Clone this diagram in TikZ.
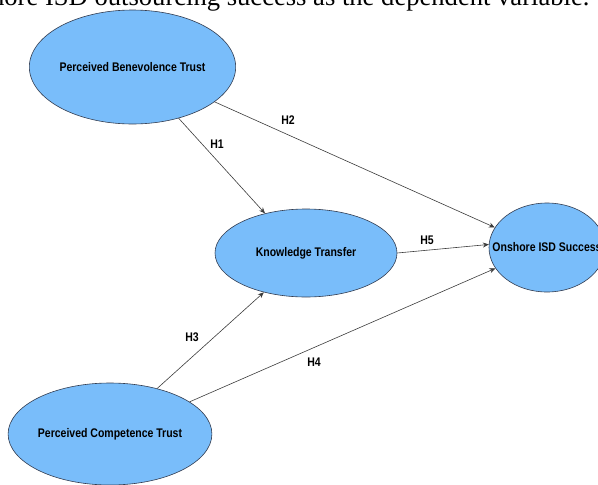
\documentclass[tikz,border=0pt]{standalone}
\usepackage{fontspec}
\usepackage{tikz}
\usetikzlibrary{shapes.geometric, arrows.meta}
\newfontfamily\lblfont{Liberation Sans}[FakeStretch=0.84]
\newfontfamily\capfont{Liberation Serif}
\definecolor{ovalblue}{RGB}{121,189,250}
\definecolor{ovalline}{RGB}{50,60,80}
\definecolor{linegray}{RGB}{60,60,60}
\tikzstyle{construct} = [ellipse, draw=ovalline, line width=0.6pt, fill=ovalblue, inner sep=0pt, font=\lblfont\bfseries\fontsize{12.5}{14}\selectfont]
\tikzstyle{hyp} = [font=\lblfont\bfseries\fontsize{12.5}{14}\selectfont]
\tikzstyle{arrow} = [draw=linegray, line width=0.6pt, -{Stealth[length=6pt,width=5pt]}]

\begin{document}
\begin{tikzpicture}[x=1pt, y=-1pt]
      \useasboundingbox (0,0) rectangle (598,485);
      \node (cap) [anchor=base east, font=\capfont\fontsize{26.6}{32}\selectfont] at (593,5.5) {shore ISD outsourcing success as the dependent variable.};
      \node (ben) [construct, minimum width=179pt, minimum height=114pt] at (132.5,67) {Perceived Benevolence Trust};
      \node (kt) [construct, minimum width=182pt, minimum height=88pt] at (306,253) {Knowledge Transfer};
      \node (ons) [construct, inner xsep=-16pt, minimum width=116pt, minimum height=89pt] at (547,247.5) {Onshore ISD Success};
      \node (comp) [construct, minimum width=196pt, minimum height=102pt] at (110,434) {Perceived Competence Trust};
      \draw [arrow] (ben.-48) -- (kt.136);
      \node (h1) [hyp] at (217,144) {H1};
      \draw [arrow] (ben.-23) -- (ons.159);
      \node (h2) [hyp] at (288,120) {H2};
      \draw [arrow] (comp.44) -- (kt.223);
      \node (h3) [hyp] at (192,337) {H3};
      \draw [arrow] (comp.22) -- (ons.202);
      \node (h4) [hyp] at (314,362) {H4};
      \draw [arrow] (kt.east) -- (ons.177);
      \node (h5) [hyp] at (427,240) {H5};
    \end{tikzpicture}
\end{document}
